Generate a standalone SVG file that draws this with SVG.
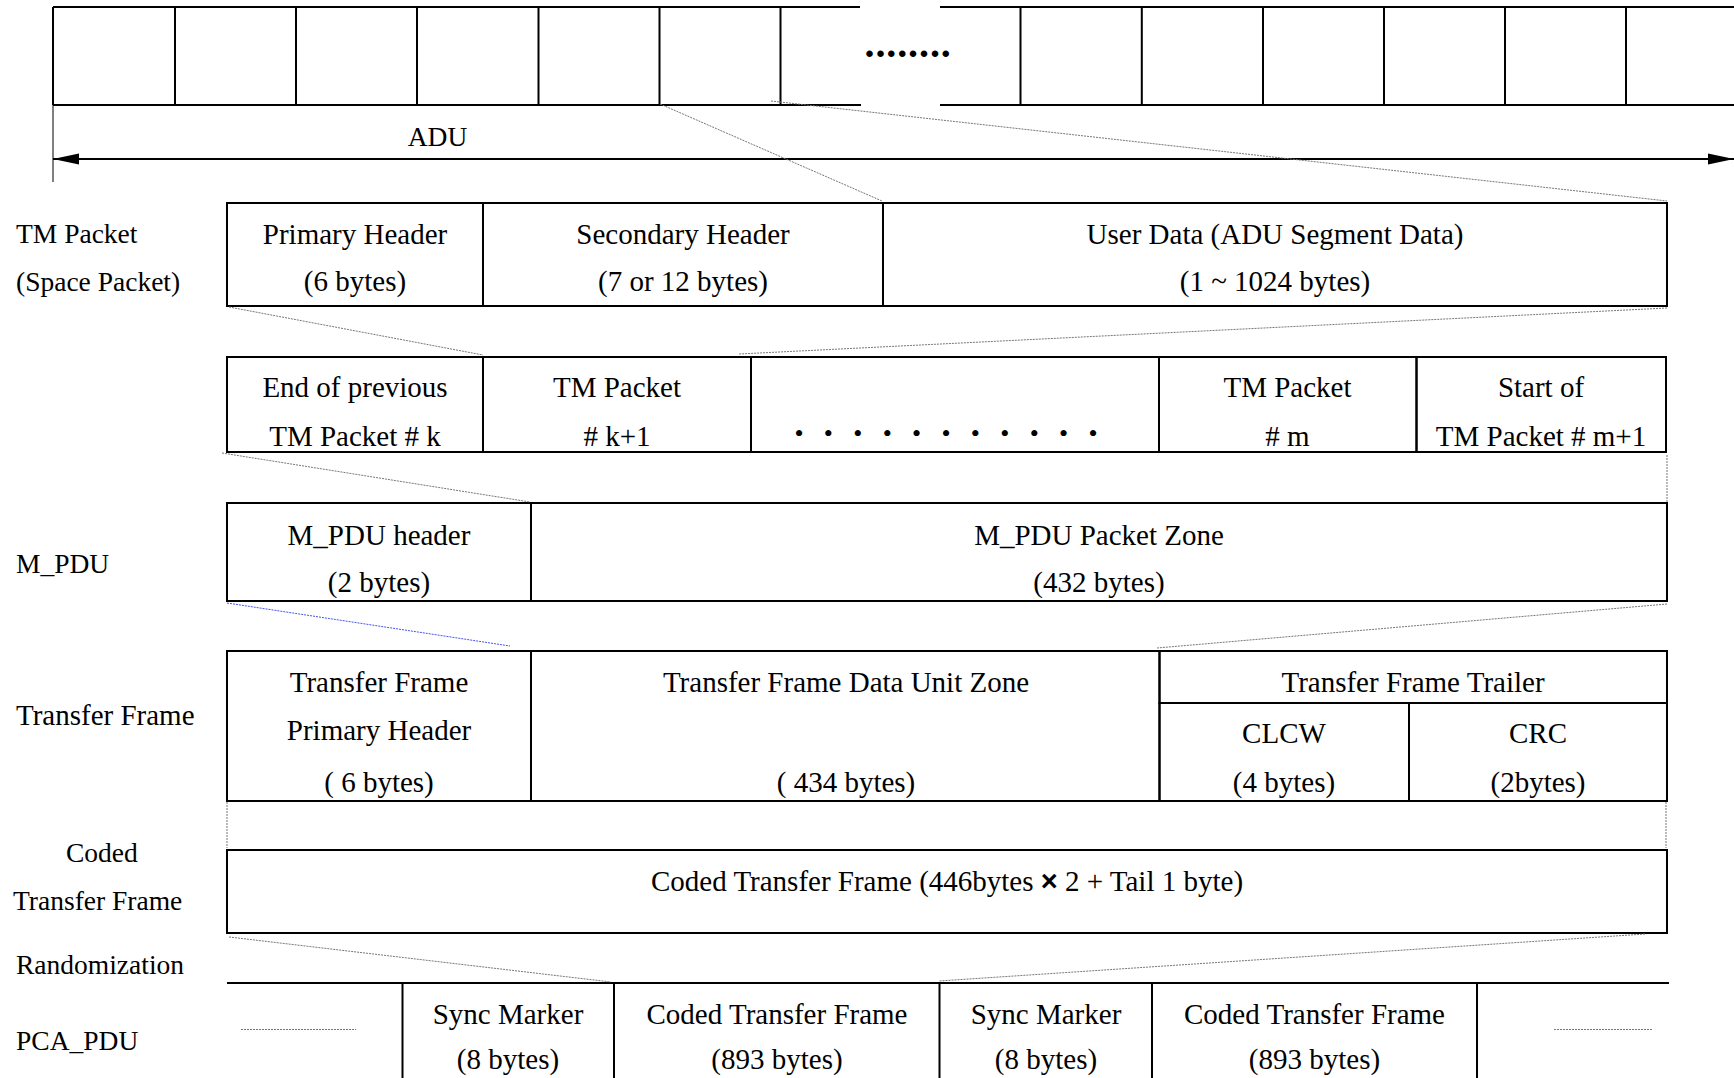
<svg xmlns="http://www.w3.org/2000/svg" width="1734" height="1078" viewBox="0 0 1734 1078">
<style>
.box{fill:none;stroke:#000;stroke-width:2}
.ln{fill:none;stroke:#000;stroke-width:2}
.t{font-family:"Liberation Serif","Times New Roman",serif;font-size:29px;text-anchor:middle;fill:#000}
.lbl{font-family:"Liberation Serif","Times New Roman",serif;font-size:27.5px;fill:#000}
.dot{fill:none;stroke:#777;stroke-width:1;stroke-dasharray:2 1}
.bdot{fill:none;stroke:#4455ee;stroke-width:1;stroke-dasharray:2 1}
</style>
<defs>
<marker id="ah" markerUnits="userSpaceOnUse" markerWidth="26" markerHeight="12" refX="26" refY="6" orient="auto-start-reverse">
<path d="M0,0.5 L26,6 L0,11.5 z" fill="#000"/>
</marker>
</defs>
<rect width="1734" height="1078" fill="#fff"/>

<g id="adu-cells">
<path class="ln" d="M53,7 H860 M53,105 H861 M940,7 H1734 M940,105 H1734"/>
<path class="ln" d="M53,7 V105 M175,7 V105 M296,7 V105 M417,7 V105 M538.5,7 V105 M659.5,7 V105 M780.5,7 V105 M1020.5,7 V105 M1141.8,7 V105 M1263,7 V105 M1384,7 V105 M1505,7 V105 M1626,7 V105"/>
<text font-family="Liberation Serif,serif" font-weight="bold" font-size="40" text-anchor="middle" x="869.5 880.4 891.3 902.2 913.1 924 934.9 945.8" y="56.5">........</text>
<path d="M53,105 V182" stroke="#000" stroke-width="1"/>
<text class="lbl" x="437.5" y="146" text-anchor="middle">ADU</text>
</g>

<g id="label-tm-packet">
<text class="lbl" x="16" y="243">TM Packet</text>
<text class="lbl" x="16" y="291">(Space Packet)</text>
</g>
<g id="tm-packet">
<rect class="box" x="227" y="203" width="256" height="103"/>
<rect class="box" x="483" y="203" width="400" height="103"/>
<rect class="box" x="883" y="203" width="784" height="103"/>
<text class="t" x="355" y="244">Primary Header</text>
<text class="t" x="355" y="291">(6 bytes)</text>
<text class="t" x="683" y="244">Secondary Header</text>
<text class="t" x="683" y="291">(7 or 12 bytes)</text>
<text class="t" x="1275" y="244">User Data (ADU Segment Data)</text>
<text class="t" x="1275" y="291">(1 ~ 1024 bytes)</text>
</g>

<g id="packet-zone">
<rect class="box" x="227" y="357" width="256" height="95"/>
<rect class="box" x="483" y="357" width="268" height="95"/>
<rect class="box" x="751" y="357" width="408" height="95"/>
<rect class="box" x="1159" y="357" width="257.5" height="95"/>
<rect class="box" x="1416.5" y="357" width="249.5" height="95"/>
<text class="t" x="355" y="397">End of previous</text>
<text class="t" x="355" y="446">TM Packet # k</text>
<text class="t" x="617" y="397">TM Packet</text>
<text class="t" x="617" y="446"># k+1</text>
<text font-family="Liberation Serif,serif" font-size="26" text-anchor="middle" x="799 828.4 857.8 887.2 916.6 946 975.4 1004.8 1034.2 1063.6 1093" y="442">•••••••••••</text>
<text class="t" x="1287.5" y="397">TM Packet</text>
<text class="t" x="1287.5" y="446"># m</text>
<text class="t" x="1541" y="397">Start of</text>
<text class="t" x="1541" y="446">TM Packet # m+1</text>
</g>

<g id="label-m-pdu">
<text class="lbl" x="16" y="573">M_PDU</text>
</g>
<g id="m-pdu">
<rect class="box" x="227" y="503" width="304" height="98"/>
<rect class="box" x="531" y="503" width="1136" height="98"/>
<text class="t" x="379" y="545">M_PDU header</text>
<text class="t" x="379" y="592">(2 bytes)</text>
<text class="t" x="1099" y="545">M_PDU Packet Zone</text>
<text class="t" x="1099" y="592">(432 bytes)</text>
</g>

<g id="label-transfer-frame">
<text class="lbl" x="16" y="725" style="font-size:29px">Transfer Frame</text>
</g>
<g id="transfer-frame">
<rect class="box" x="227" y="651" width="304" height="150"/>
<rect class="box" x="531" y="651" width="628.5" height="150"/>
<rect class="box" x="1159.5" y="651" width="507.5" height="52"/>
<rect class="box" x="1159.5" y="703" width="249.5" height="98"/>
<rect class="box" x="1409" y="703" width="258" height="98"/>
<text class="t" x="379" y="692">Transfer Frame</text>
<text class="t" x="379" y="740">Primary Header</text>
<text class="t" x="379" y="792">( 6 bytes)</text>
<text class="t" x="846" y="692">Transfer Frame Data Unit Zone</text>
<text class="t" x="846" y="792">( 434 bytes)</text>
<text class="t" x="1413" y="692">Transfer Frame Trailer</text>
<text class="t" x="1284" y="743">CLCW</text>
<text class="t" x="1284" y="792">(4 bytes)</text>
<text class="t" x="1538" y="743">CRC</text>
<text class="t" x="1538" y="792">(2bytes)</text>
</g>

<g id="label-coded">
<text class="lbl" x="66" y="862">Coded</text>
<text class="lbl" x="13" y="910">Transfer Frame</text>
<text class="lbl" x="16" y="974">Randomization</text>
</g>
<g id="coded-transfer-frame">
<rect class="box" x="227" y="850" width="1440" height="83"/>
<text class="t" x="947" y="891">Coded Transfer Frame (446bytes <tspan font-family="Liberation Sans,sans-serif" font-weight="bold">×</tspan> 2 + Tail 1 byte)</text>
</g>

<g id="label-pca-pdu">
<text class="lbl" x="16" y="1050">PCA_PDU</text>
</g>
<g id="pca-pdu">
<path class="ln" d="M227,983 H1669 M402.5,983 V1080 M614,983 V1080 M939.5,983 V1080 M1152,983 V1080 M1477,983 V1080"/>
<path class="dot" d="M241,1029.5 H356 M1554,1029.5 H1652"/>
<text class="t" x="508" y="1024">Sync Marker</text>
<text class="t" x="508" y="1069">(8 bytes)</text>
<text class="t" x="777" y="1024">Coded Transfer Frame</text>
<text class="t" x="777" y="1069">(893 bytes)</text>
<text class="t" x="1046" y="1024">Sync Marker</text>
<text class="t" x="1046" y="1069">(8 bytes)</text>
<text class="t" x="1314.5" y="1024">Coded Transfer Frame</text>
<text class="t" x="1314.5" y="1069">(893 bytes)</text>
</g>

<g id="connectors">
<line x1="53" y1="159" x2="1734" y2="159" stroke="#000" stroke-width="2" marker-start="url(#ah)" marker-end="url(#ah)"/>
<path class="dot" d="M660,104 L882,201"/>
<path class="dot" d="M771,101 L1667,201"/>
<path class="dot" d="M229,307 L483,355"/>
<path class="dot" d="M1667,308 L739,354"/>
<path class="dot" d="M222,453 L530,502"/>
<path class="dot" d="M1667,455 V502"/>
<path class="bdot" d="M227,603 L510,646"/>
<path class="dot" d="M1667,604 L1157,648"/>
<path class="dot" d="M227,802 V848"/>
<path class="dot" d="M1666,802 V848"/>
<path class="dot" d="M229,937 L611,982"/>
<path class="dot" d="M1645,934 L939,981"/>
</g>
</svg>
